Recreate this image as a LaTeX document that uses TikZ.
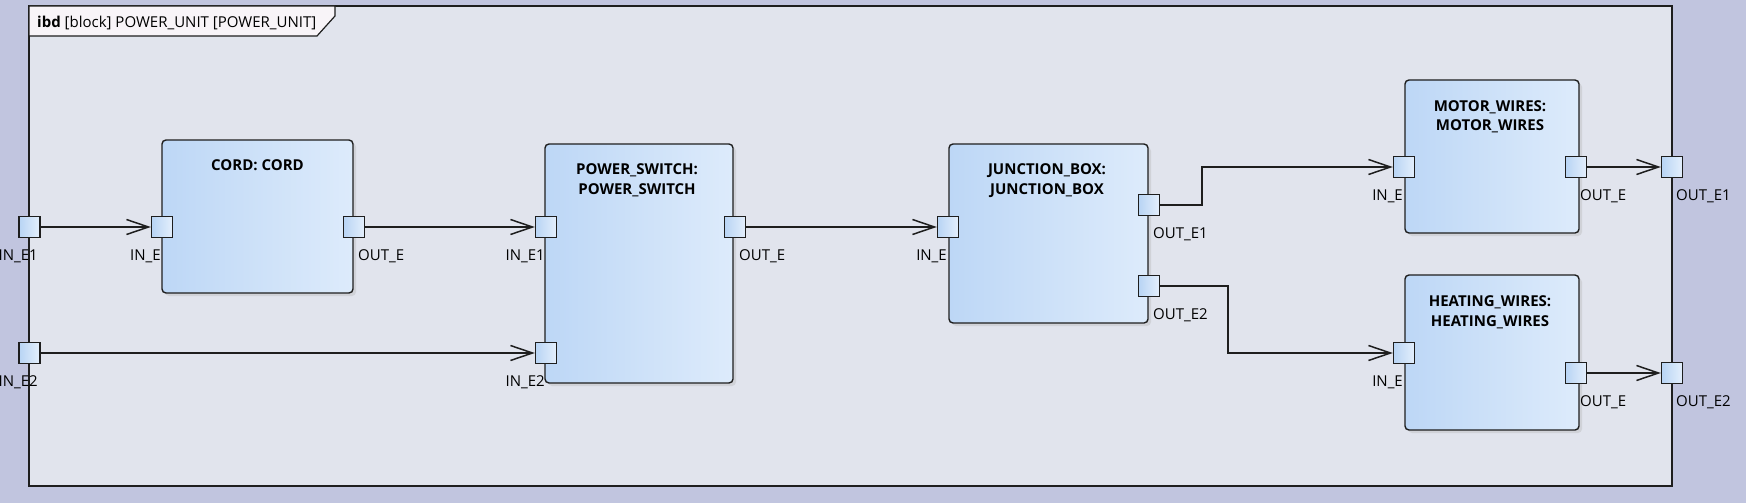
\documentclass[tikz,border=0pt]{standalone}
\usepackage{fontspec}
\setmainfont{Open Sans}
\usetikzlibrary{arrows.meta,shadows}
\definecolor{outerbg}{RGB}{193,197,223}
\definecolor{innerbg}{RGB}{225,228,237}
\definecolor{tabfill}{RGB}{248,244,248}
\definecolor{blockL}{RGB}{189,215,246}
\definecolor{blockR}{RGB}{221,235,251}
\definecolor{portL}{RGB}{184,212,244}
\definecolor{portR}{RGB}{228,239,252}
\definecolor{edge}{RGB}{30,30,30}
\begin{document}
\begin{tikzpicture}[x=1pt,y=-1pt,
  lblfont/.style={font=\fontsize{15}{17.5}\selectfont},
  titlefont/.style={font=\bfseries\fontsize{15}{19.5}\selectfont},
  block/.style={draw=edge, line width=1.4pt, rounded corners=4pt,
    left color=blockL, right color=blockR, inner sep=0pt,
    drop shadow={shadow xshift=3pt, shadow yshift=-3pt, fill=black!30, opacity=0.35}},
  port/.style={draw=edge, line width=1.4pt, left color=portL, right color=portR,
    minimum size=21pt, inner sep=0pt},
  plabel/.style={lblfont, inner sep=0pt, text=black},
  outlab/.style={label={[plabel, anchor=north west, xshift=4pt, yshift=-11.5pt]south:#1}},
  inlab/.style={label={[plabel, anchor=north east, xshift=-1pt, yshift=-11.5pt]south:#1}},
  framelab/.style={label={[plabel, anchor=north east, xshift=8.5pt, yshift=-11.5pt]south:#1}},
  btitle/.style={titlefont, inner sep=0pt, align=center, anchor=north},
  conn/.style={draw=edge, line width=1.5pt,
    -{Straight Barb[length=22pt, width=15pt, line width=1.5pt]}}
]
\useasboundingbox (0,0) rectangle (1746,503);
\fill[outerbg] (0,0) rectangle (1746,503);

% frame
\draw[draw=edge, line width=1.6pt, fill=innerbg] (29,6) rectangle (1672,486);
\draw[draw=edge, line width=1.2pt, fill=tabfill] (29,6) -- (335,6) -- (335,16) -- (317,36) -- (29,36) -- cycle;
\node[anchor=north west, inner sep=0pt, lblfont] (tabtitle) at (37,15.5)
  {\textbf{ibd} [block] POWER\_UNIT [POWER\_UNIT]};

% blocks
\node[block, minimum width=191pt, minimum height=153pt] (cord) at (257.5,216.5) {};
\node[block, minimum width=188pt, minimum height=239pt] (ps) at (639,263.5) {};
\node[block, minimum width=199pt, minimum height=179pt] (jb) at (1048.5,233.5) {};
\node[block, minimum width=174pt, minimum height=153pt] (mw) at (1492,156.5) {};
\node[block, minimum width=174pt, minimum height=155pt] (hw) at (1492,352.5) {};

% titles
\node[btitle] (cordt) at (257.5,159.5) {CORD: CORD};
\node[btitle] (pst) at (637,163.5) {POWER\_SWITCH:\\ POWER\_SWITCH};
\node[btitle] (jbt) at (1047,163.5) {JUNCTION\_BOX:\\ JUNCTION\_BOX};
\node[btitle] (mwt) at (1490,100) {MOTOR\_WIRES:\\ MOTOR\_WIRES};
\node[btitle] (hwt) at (1490,295.5) {HEATING\_WIRES:\\ HEATING\_WIRES};

% ports
\node[port, framelab={IN\_E1}] (fin1) at (29.5,227) {};
\node[port, framelab={IN\_E2}] (fin2) at (29.5,353) {};
\node[port, outlab={OUT\_E1}] (fout1) at (1672,167) {};
\node[port, outlab={OUT\_E2}] (fout2) at (1672,373) {};

\node[port, inlab={IN\_E}] (cordin) at (162,227) {};
\node[port, outlab={OUT\_E}] (cordout) at (354,227) {};

\node[port, inlab={IN\_E1}] (psin1) at (546,227) {};
\node[port, inlab={IN\_E2}] (psin2) at (546,353) {};
\node[port, outlab={OUT\_E}] (psout) at (735,227) {};

\node[port, inlab={IN\_E}] (jbin) at (948,227) {};
\node[port, outlab={OUT\_E1}] (jbo1) at (1149,205) {};
\node[port, outlab={OUT\_E2}] (jbo2) at (1149,286) {};

\node[port, inlab={IN\_E}] (mwin) at (1404,167) {};
\node[port, outlab={OUT\_E}] (mwout) at (1576,167) {};

\node[port, inlab={IN\_E}] (hwin) at (1404,353) {};
\node[port, outlab={OUT\_E}] (hwout) at (1576,373) {};

% connectors
\draw[conn] (fin1.east) -- (cordin.west);
\draw[conn] (cordout.east) -- (psin1.west);
\draw[conn] (fin2.east) -- (psin2.west);
\draw[conn] (psout.east) -- (jbin.west);
\draw[conn] (jbo1.east) -- ++(42,0) |- (mwin.west);
\draw[conn] (jbo2.east) -- ++(68,0) |- (hwin.west);
\draw[conn] (mwout.east) -- (fout1.west);
\draw[conn] (hwout.east) -- (fout2.west);
\end{tikzpicture}
\end{document}
